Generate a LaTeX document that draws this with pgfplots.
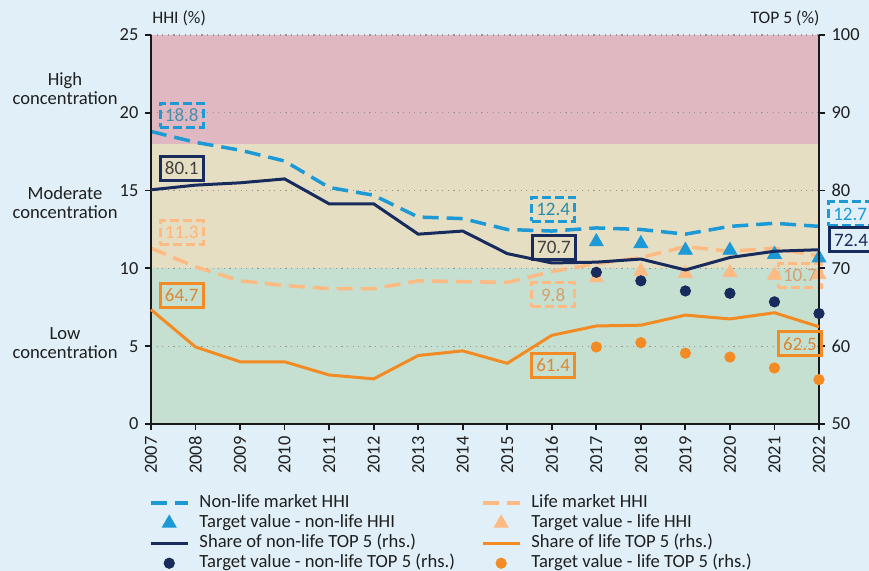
\documentclass[border=0pt]{standalone}
\usepackage{pgfplots}
\pgfplotsset{compat=1.18}
\usepackage{fontspec}
\setmainfont{Carlito}
\definecolor{bg}{HTML}{E1F0F8}
\definecolor{bandred}{HTML}{E0B8C1}
\definecolor{bandbeige}{HTML}{E6DEC3}
\definecolor{bandgreen}{HTML}{C5E0D0}
\definecolor{nlblue}{HTML}{1D9AD6}
\definecolor{navy}{HTML}{172B5C}
\definecolor{lifelight}{HTML}{FDBA82}
\definecolor{lorange}{HTML}{F38B24}
\definecolor{gridc}{HTML}{9A948C}
\definecolor{txtc}{HTML}{1F1F1F}
\tikzset{
 lblbox/.style={draw, line width=1.5pt, minimum width=21.5pt, minimum height=12pt, inner sep=0.5pt, font=\fontsize{9.5}{10}\selectfont, fill=none},
 dashbox/.style={lblbox, dash pattern=on 4.5pt off 2pt},
}
\pgfplotsset{
 leglineimg/.style={legend image code/.code={\draw[##1] (0pt,0pt) -- (18.5pt,0pt);}},
 legmarkimg/.style={legend image code/.code={\draw[##1] plot coordinates {(9.25pt,0pt)};}},
 common/.style={
   at={(0pt,0pt)}, anchor=south west,
   scale only axis, width=334pt, height=194.5pt,
   xmin=2007, xmax=2022,
   clip=false,
   axis line style={line width=0.9pt, color=black!90, -},
   tick style={line width=0.9pt, color=black!90},
   tick align=outside, major tick length=3pt,
   tick label style={font=\fontsize{9.2}{10}\selectfont, text=txtc},
   /pgf/number format/.cd, 1000 sep={}, assume math mode=true,
 },
}
\begin{document}
\fontsize{9.3}{11}\selectfont
\begin{tikzpicture}
\fill[bg] (-75.5pt,-73.5pt) rectangle (359pt,212pt);
\useasboundingbox (-75.5pt,-73.5pt) rectangle (359pt,212pt);
\begin{axis}[common,
  ymin=0, ymax=25,
  axis x line*=bottom, axis y line*=left,
  xtick={2007,2008,...,2022}, ytick={0,5,...,25},
  x tick label style={rotate=90, anchor=east},
  axis on top,
]
\fill[bandgreen] (axis cs:2007,0) rectangle (axis cs:2022,10);
\fill[bandbeige] (axis cs:2007,10) rectangle (axis cs:2022,18);
\fill[bandred] (axis cs:2007,18) rectangle (axis cs:2022,25);
\pgfplotsinvokeforeach{5,10,15,20,25}{
  \draw[gridc, line width=0.6pt, dash pattern=on 0.6pt off 2.2pt] (axis cs:2007,#1) -- (axis cs:2022,#1);
}
% Non-life HHI
\addplot[nlblue, line width=1.75pt, dash pattern=on 8pt off 4pt] coordinates {
 (2007,18.8) (2008,18.1) (2009,17.6) (2010,16.9) (2011,15.2) (2012,14.7) (2013,13.3) (2014,13.2)
 (2015,12.5) (2016,12.4) (2017,12.6) (2018,12.5) (2019,12.2) (2020,12.7) (2021,12.9) (2022,12.7)};
% Life HHI
\addplot[lifelight, line width=1.75pt, dash pattern=on 8pt off 4pt] coordinates {
 (2007,11.3) (2008,10.1) (2009,9.2) (2010,8.9) (2011,8.7) (2012,8.7) (2013,9.2) (2014,9.15)
 (2015,9.1) (2016,9.8) (2017,10.3) (2018,10.7) (2019,11.4) (2020,11.1) (2021,11.3) (2022,10.8)};
% Target life HHI
\addplot[only marks, mark=triangle*, mark size=4pt, lifelight, mark options={fill=lifelight, draw=none}] coordinates {
 (2017,9.4) (2018,9.82) (2019,9.67) (2020,9.72) (2021,9.56) (2022,9.6)};
% Target non-life HHI
\addplot[only marks, mark=triangle*, mark size=4pt, nlblue, mark options={fill=nlblue, draw=none}] coordinates {
 (2017,11.71) (2018,11.59) (2019,11.16) (2020,11.16) (2021,10.9) (2022,10.67)};
% labels HHI
\node[dashbox, draw=nlblue, text=nlblue!55!gray] at (axis cs:2007.69,19.85) {18.8};
\node[dashbox, draw=lifelight, text=lifelight!90!orange] at (axis cs:2007.69,12.29) {11.3};
\node[dashbox, draw=nlblue, text=nlblue!60!teal!80!gray] at (axis cs:2016.03,13.8) {12.4};
\node[dashbox, draw=lifelight, text=lifelight!70!brown!80!gray] at (axis cs:2016.03,8.29) {9.8};
\node[dashbox, draw=nlblue, text=nlblue] at (axis cs:2022.7,13.5) {12.7};
\node[dashbox, draw=lifelight, text=lifelight!70!brown!80!gray] at (axis cs:2021.57,9.53) {10.7};
% side labels
\node[align=center, font=\fontsize{9.3}{9.5}\selectfont, text=txtc] at (axis cs:2005.07,21.56) {High\\concentration};
\node[align=center, font=\fontsize{9.3}{9.5}\selectfont, text=txtc] at (axis cs:2005.07,14.2) {Moderate\\concentration};
\node[align=center, font=\fontsize{9.3}{9.5}\selectfont, text=txtc] at (axis cs:2005.07,5.17) {Low\\concentration};
\node[anchor=west, inner sep=0pt, font=\fontsize{8.8}{10}\selectfont, text=txtc] at (axis cs:2007.02,26.1) {HHI (\%)};
\end{axis}
\begin{axis}[common,
  ymin=50, ymax=100,
  axis y line*=right, hide x axis,
  ytick={50,60,...,100},
  legend columns=2,
  legend cell align=left,
  legend style={at={(-0.003,-0.178)}, anchor=north west, draw=none, fill=none, inner sep=0pt, outer sep=0pt,
    font=\fontsize{9.3}{10}\selectfont, text=txtc, row sep=0pt,
    nodes={text height=6.8pt, text depth=2.2pt, inner sep=0.5pt},
    /tikz/column 1/.style={column sep=4.5pt},
    /tikz/column 2/.style={column sep=12.5pt},
    /tikz/column 3/.style={column sep=4.5pt}},
]
\addlegendimage{leglineimg, nlblue, line width=1.75pt, dash pattern=on 8pt off 4pt}
\addlegendentry{Non-life market HHI}
\addlegendimage{leglineimg, lifelight, line width=1.75pt, dash pattern=on 8pt off 4pt}
\addlegendentry{Life market HHI}
\addlegendimage{legmarkimg, only marks, mark=triangle*, mark size=4pt, nlblue, mark options={fill=nlblue, draw=none}}
\addlegendentry{Target value - non-life HHI}
\addlegendimage{legmarkimg, only marks, mark=triangle*, mark size=4pt, lifelight, mark options={fill=lifelight, draw=none}}
\addlegendentry{Target value - life HHI}
\addlegendimage{leglineimg, navy, line width=1.5pt}
\addlegendentry{Share of non-life TOP 5 (rhs.)}
\addlegendimage{leglineimg, lorange, line width=1.5pt}
\addlegendentry{Share of life TOP 5 (rhs.)}
\addlegendimage{legmarkimg, only marks, mark=*, mark size=2.6pt, navy, mark options={fill=navy, draw=none}}
\addlegendentry{Target value - non-life TOP 5 (rhs.)}
\addlegendimage{legmarkimg, only marks, mark=*, mark size=2.6pt, lorange, mark options={fill=lorange, draw=none}}
\addlegendentry{Target value - life TOP 5 (rhs.)}
% Non-life TOP5
\addplot[navy, line width=1.5pt, forget plot] coordinates {
 (2007,80.1) (2008,80.7) (2009,81.0) (2010,81.5) (2011,78.3) (2012,78.3) (2013,74.4) (2014,74.8)
 (2015,71.9) (2016,70.7) (2017,70.8) (2018,71.2) (2019,69.8) (2020,71.4) (2021,72.2) (2022,72.4)};
% Life TOP5
\addplot[lorange, line width=1.5pt, forget plot] coordinates {
 (2007,64.7) (2008,59.9) (2009,58.0) (2010,58.0) (2011,56.3) (2012,55.8) (2013,58.8) (2014,59.4)
 (2015,57.8) (2016,61.4) (2017,62.6) (2018,62.7) (2019,64.0) (2020,63.5) (2021,64.3) (2022,62.5)};
% Target non-life TOP5
\addplot[only marks, mark=*, mark size=2.6pt, navy, mark options={fill=navy, draw=none}, forget plot] coordinates {
 (2017,69.5) (2018,68.4) (2019,67.1) (2020,66.8) (2021,65.7) (2022,64.2)};
% Target life TOP5
\addplot[only marks, mark=*, mark size=2.6pt, lorange, mark options={fill=lorange, draw=none}, forget plot] coordinates {
 (2017,59.9) (2018,60.45) (2019,59.1) (2020,58.6) (2021,57.2) (2022,55.7)};
% labels TOP5
\node[lblbox, draw=navy, text=black!75] at (axis cs:2007.69,82.9) {80.1};
\node[lblbox, draw=lorange, text=lorange!75!brown!90!gray] at (axis cs:2007.69,66.55) {64.7};
\node[lblbox, draw=navy, text=black!75] at (axis cs:2016.05,72.75) {70.7};
\node[lblbox, draw=lorange, text=lorange!75!brown!90!gray] at (axis cs:2016.03,57.5) {61.4};
\node[lblbox, draw=navy, text=navy] at (axis cs:2022.72,73.65) {72.4};
\node[lblbox, draw=lorange, text=lorange!75!brown!90!gray] at (axis cs:2021.57,60.3) {62.5};
\node[anchor=east, inner sep=0pt, font=\fontsize{8.8}{10}\selectfont, text=txtc] at (axis cs:2022.02,102.2) {TOP 5 (\%)};
\end{axis}
\end{tikzpicture}
\end{document}
